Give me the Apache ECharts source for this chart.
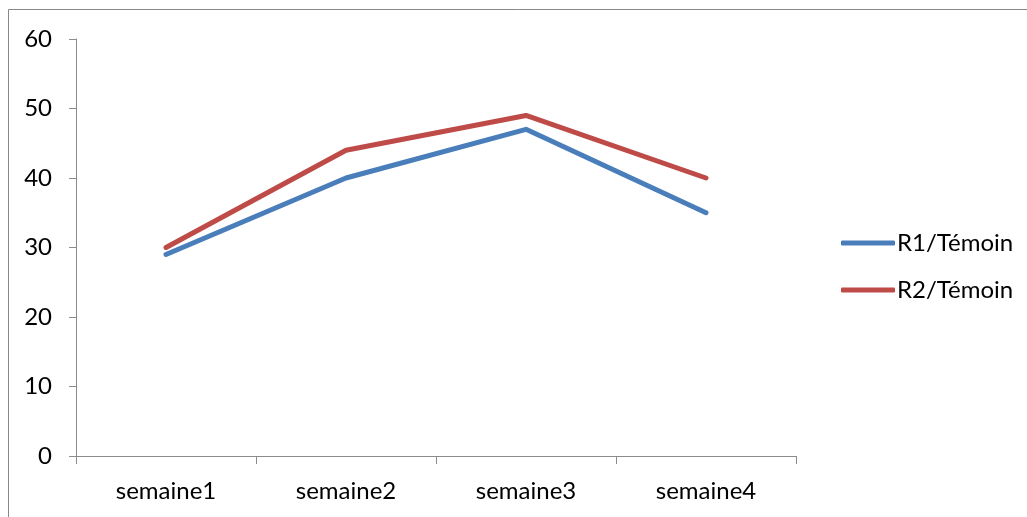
<!DOCTYPE html>
<html>
<head>
<meta charset="utf-8">
<script src="https://cdn.jsdelivr.net/npm/echarts@6/dist/echarts.min.js"></script>
<style>
  html, body { margin: 0; padding: 0; background: #fff; }
  #chart { width: 1027px; height: 517px; }
</style>
</head>
<body>
<div id="chart"></div>
<script>
// Weekly ratios against the control
const categories = ['semaine1', 'semaine2', 'semaine3', 'semaine4'];
const seriesR1 = [29, 40, 47, 35];
const seriesR2 = [30, 44, 49, 40];
const seriesNames = ['R1/Témoin', 'R2/Témoin'];
const colors = ['#4A7EBB', '#BE4B48'];

const fontFamily = 'Lato, "Open Sans", sans-serif';
const axisColor = '#8c8c8c';

const chart = echarts.init(document.getElementById('chart'), null, { renderer: 'canvas' });

chart.setOption({
  animation: false,
  color: colors,
  graphic: [{
    type: 'rect',
    shape: { x: 8.5, y: 9.5, width: 1040, height: 530 },
    style: { fill: 'none', stroke: '#888', lineWidth: 1 },
    silent: true
  }],
  grid: { left: 76, right: 231, top: 39, bottom: 61, containLabel: false },
  legend: {
    orient: 'vertical',
    left: 836,
    top: 226,
    itemWidth: 54,
    itemHeight: 5,
    itemGap: 23,
    icon: 'roundRect',
    textStyle: { fontFamily, fontSize: 24, color: '#000', padding: [0, 0, 0, -3] },
    data: seriesNames
  },
  xAxis: {
    type: 'category',
    data: categories,
    boundaryGap: true,
    axisLine: { lineStyle: { color: axisColor, width: 1 } },
    axisTick: { show: true, length: 8, alignWithLabel: false, lineStyle: { color: axisColor } },
    axisLabel: { fontFamily, fontSize: 24, color: '#000', margin: 23 },
    splitLine: { show: false }
  },
  yAxis: {
    type: 'value',
    min: 0,
    max: 60,
    interval: 10,
    axisLine: { show: true, lineStyle: { color: axisColor, width: 1 } },
    axisTick: { show: true, length: 7, lineStyle: { color: axisColor } },
    axisLabel: { fontFamily, fontSize: 24, color: '#000', margin: 24 },
    splitLine: { show: false }
  },
  series: [
    {
      name: seriesNames[0],
      type: 'line',
      data: seriesR1,
      symbol: 'none',
      lineStyle: { width: 5, color: colors[0], cap: 'round', join: 'round' },
      itemStyle: { color: colors[0] }
    },
    {
      name: seriesNames[1],
      type: 'line',
      data: seriesR2,
      symbol: 'none',
      lineStyle: { width: 5, color: colors[1], cap: 'round', join: 'round' },
      itemStyle: { color: colors[1] }
    }
  ]
});
</script>
</body>
</html>
